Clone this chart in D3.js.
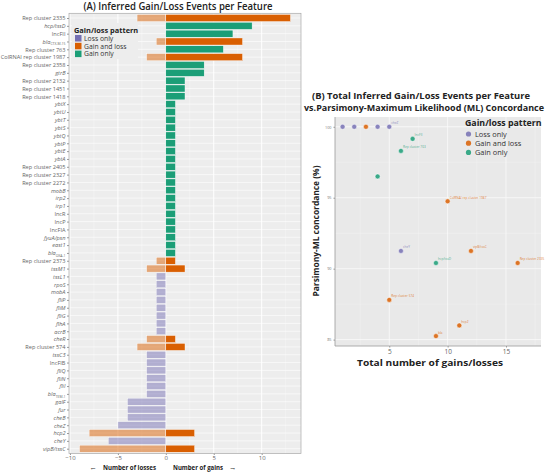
<!DOCTYPE html>
<html>
<head>
<meta charset="utf-8">
<script src="https://cdnjs.cloudflare.com/ajax/libs/d3/7.8.5/d3.min.js"></script>
<style>
  body { margin:0; padding:0; background:#fff; }
  svg { display:block; font-family:"Open Sans", sans-serif; }
  .tick line { stroke:#999; }
  .domain { display:none; }
</style>
</head>
<body>
<svg id="chart" width="550" height="474"></svg>
<script>
// ---- (A) gain / loss events per feature ----
var features = ["Rep cluster 2335","hcp/tssD","IncFII","blaCTX-M-15","Rep cluster 763","ColRNAI rep cluster 1987",
  "Rep cluster 2358","gtrB","Rep cluster 2132","Rep cluster 1451","Rep cluster 1418",
  "ybtX","ybtU","ybtT","ybtS","ybtQ","ybtP","ybtE","ybtA",
  "Rep cluster 2405","Rep cluster 2327","Rep cluster 2272","mobB","irp2","irp1","IncR","IncP","IncFIA",
  "fyuA/psn","east1","blaOXA-1","Rep cluster 2373","tssM1","tssL1","rpoS","mobA","fliP","fliM","fliG",
  "flhA","acrB","cheR","Rep cluster 574","tssC3","IncFIB","fliQ","fliN","fliI","blaTEM-1",
  "galF","fur","cheB","cheZ","hcp2","cheY","vipB/tssC"];
var losses = [3,0,0,1,0,2, 0,0,0,0,0, 0,0,0,0,0,0,0,0, 0,0,0,0,0,0,0,0,0, 0,0,0,1,2,1,1,1,1,1,1,
  1,1,2,3,2,2,2,2,2,2, 4,4,4,5,8,6,9];
var gains  = [13,9,7,8,6,8, 4,4,2,2,2, 1,1,1,1,1,1,1,1, 1,1,1,1,1,1,1,1,1, 1,1,1,1,2,0,0,0,0,0,0,
  0,0,1,2,0,0,0,0,0,0, 0,0,0,0,3,0,3];
var xTicksA = [-10,-5,0,5,10];

// ---- (B) total events vs concordance ----
var totalEvents = [1,2,3,4,5,7,6,4,10,6,12,9,16,5,11,9];
var concordance = [100,100,100,100,100,99.15,98.3,96.5,94.75,91.25,91.25,90.4,90.4,87.8,86.0,85.25];
var pointPattern = ["Loss only","Loss only","Gain and loss","Loss only","Loss only","Gain only","Gain only","Gain only",
  "Gain and loss","Loss only","Gain and loss","Gain only","Gain and loss","Gain and loss","Gain and loss","Gain and loss"];
var pointLabels = ["","","","","cheZ","IncFII","Rep cluster 763","","ColRNAI rep cluster 1987","cheY","vipB/tssC",
  "hcp/tssD","Rep cluster 2335","Rep cluster 574","hcp2","bla"];
var xTicksB = [5,10,15];
var yTicksB = [85,90,95,100];

var patterns = ["Loss only","Gain and loss","Gain only"];
var color = d3.scaleOrdinal().domain(patterns).range(["#7570b3","#d95f02","#1b9e77"]);

function patternOf(i) {
  if (gains[i] == 0) return "Loss only";
  if (losses[i] == 0) return "Gain only";
  return "Gain and loss";
}

var svg = d3.select("#chart");

// ================= panel A =================
var pA = {left:69, right:301, top:13.3, bottom:453.5};
var xA = d3.scaleLinear().domain([-10.1, 14.1]).range([pA.left, pA.right]);
var yA = d3.scalePoint().domain(features).range([18, 448.7]);
var barH = yA.step() * 0.9;

var gA = svg.append("g");
gA.append("rect").attr("x", pA.left).attr("y", pA.top)
  .attr("width", pA.right - pA.left).attr("height", pA.bottom - pA.top).attr("fill", "#ededed");

gA.selectAll(".minorA").data([-7.5,-2.5,2.5,7.5,12.5]).enter().append("line")
  .attr("x1", d => xA(d)).attr("x2", d => xA(d)).attr("y1", pA.top).attr("y2", pA.bottom)
  .attr("stroke", "#f8f8f8").attr("stroke-width", 0.5);
gA.selectAll(".majorA").data(xTicksA).enter().append("line")
  .attr("x1", d => xA(d)).attr("x2", d => xA(d)).attr("y1", pA.top).attr("y2", pA.bottom)
  .attr("stroke", "#fff").attr("stroke-width", 1);
gA.selectAll(".rowA").data(features).enter().append("line")
  .attr("x1", pA.left).attr("x2", pA.right).attr("y1", d => yA(d)).attr("y2", d => yA(d))
  .attr("stroke", "#fff").attr("stroke-width", 0.6);

// loss bars (lighter), gain bars (solid)
gA.selectAll(".loss").data(features).enter().filter((d, i) => losses[i] > 0).append("rect")
  .attr("x", function(d) { return xA(-losses[features.indexOf(d)]); })
  .attr("y", d => yA(d) - barH / 2)
  .attr("width", function(d) { return xA(0) - xA(-losses[features.indexOf(d)]); })
  .attr("height", barH)
  .attr("fill", function(d) { return color(patternOf(features.indexOf(d))); })
  .attr("fill-opacity", 0.5)
  .attr("stroke", "#fff").attr("stroke-width", 0.4);
gA.selectAll(".gain").data(features).enter().filter((d, i) => gains[i] > 0).append("rect")
  .attr("x", xA(0))
  .attr("y", d => yA(d) - barH / 2)
  .attr("width", function(d) { return xA(gains[features.indexOf(d)]) - xA(0); })
  .attr("height", barH)
  .attr("fill", function(d) { return color(patternOf(features.indexOf(d))); })
  .attr("stroke", "#fff").attr("stroke-width", 0.4);

gA.append("rect").attr("x", pA.left).attr("y", pA.top)
  .attr("width", pA.right - pA.left).attr("height", pA.bottom - pA.top)
  .attr("fill", "none").attr("stroke", "#a8a8a8").attr("stroke-width", 0.7);

// axes
var axA = gA.append("g").attr("transform", "translate(0," + pA.bottom + ")")
  .call(d3.axisBottom(xA).tickValues(xTicksA).tickSize(1.5).tickPadding(0.5));
axA.selectAll("text").attr("font-size", 6).attr("fill", "#666").attr("font-family", "Open Sans");

var ayA = gA.append("g").attr("transform", "translate(" + pA.left + ",0)")
  .call(d3.axisLeft(yA).tickSize(2).tickPadding(1.5));
ayA.selectAll("text").each(function(d) {
  var t = d3.select(this).text("").attr("font-size", 5.6).attr("fill", "#666")
    .attr("font-family", "Open Sans");
  var upright = /^(Rep|Inc|ColRNAI)/.test(d);
  if (/^bla/.test(d)) {
    t.append("tspan").attr("font-style", "italic").text("bla");
    t.append("tspan").attr("font-size", 3.4).attr("dy", 1.6).text(d.slice(3));
  } else {
    t.append("tspan").attr("font-style", upright ? "normal" : "italic").text(d);
  }
});

gA.append("text").attr("x", 93).attr("y", 470).attr("text-anchor", "middle")
  .attr("font-size", 7.5).attr("fill", "#333").text("\u2190");
gA.append("text").attr("x", 103).attr("y", 470).attr("font-size", 6.8).attr("font-weight", "bold")
  .attr("fill", "#222").attr("textLength", 53).attr("lengthAdjust", "spacingAndGlyphs").text("Number of losses");
gA.append("text").attr("x", 173).attr("y", 470).attr("font-size", 6.8).attr("font-weight", "bold")
  .attr("fill", "#222").attr("textLength", 50).attr("lengthAdjust", "spacingAndGlyphs").text("Number of gains");
gA.append("text").attr("x", 229).attr("y", 470)
  .attr("font-size", 7.5).attr("fill", "#333").text("\u2192");

gA.append("text").attr("x", 178).attr("y", 10).attr("text-anchor", "middle")
  .attr("font-size", 10.5).attr("font-weight", 600).attr("fill", "#222")
  .attr("textLength", 189).attr("lengthAdjust", "spacingAndGlyphs")
  .text("(A) Inferred Gain/Loss Events per Feature");

// legend A
var lgA = gA.append("g");
lgA.append("rect").attr("x", 72).attr("y", 23).attr("width", 66).attr("height", 36).attr("fill", "#ededed");
lgA.append("text").attr("x", 74).attr("y", 33).attr("font-size", 7.4).attr("font-weight", "bold")
  .attr("fill", "#222").text("Gain/loss pattern");
lgA.selectAll(".k").data(patterns).enter().append("rect")
  .attr("x", 75).attr("y", (d, i) => 35 + i * 7.8).attr("width", 6.5).attr("height", 6.5)
  .attr("fill", d => color(d));
lgA.selectAll(".l").data(patterns).enter().append("text")
  .attr("x", 84).attr("y", (d, i) => 40.8 + i * 7.8).attr("font-size", 6.8).attr("fill", "#333")
  .text(d => d);

// ================= panel B =================
var pB = {left:335, right:541, top:117, bottom:346};
var xB = d3.scaleLinear().domain([0.35, 18]).range([pB.left, pB.right]);
var yB = d3.scaleLinear().domain([84.55, 100.69]).range([pB.bottom, pB.top]);

var gB = svg.append("g");
gB.append("rect").attr("x", pB.left).attr("y", pB.top)
  .attr("width", pB.right - pB.left).attr("height", pB.bottom - pB.top).attr("fill", "#e9e9e9");
gB.selectAll(".mx").data([2.5,7.5,12.5,17.5]).enter().append("line")
  .attr("x1", d => xB(d)).attr("x2", d => xB(d)).attr("y1", pB.top).attr("y2", pB.bottom)
  .attr("stroke", "#f4f4f4").attr("stroke-width", 0.4);
gB.selectAll(".my").data([87.5,92.5,97.5]).enter().append("line")
  .attr("y1", d => yB(d)).attr("y2", d => yB(d)).attr("x1", pB.left).attr("x2", pB.right)
  .attr("stroke", "#f4f4f4").attr("stroke-width", 0.4);
gB.selectAll(".Mx").data(xTicksB).enter().append("line")
  .attr("x1", d => xB(d)).attr("x2", d => xB(d)).attr("y1", pB.top).attr("y2", pB.bottom)
  .attr("stroke", "#fafafa").attr("stroke-width", 0.8);
gB.selectAll(".My").data(yTicksB).enter().append("line")
  .attr("y1", d => yB(d)).attr("y2", d => yB(d)).attr("x1", pB.left).attr("x2", pB.right)
  .attr("stroke", "#fafafa").attr("stroke-width", 0.8);

gB.append("path")
  .attr("d", "M" + pB.left + "," + pB.top + "V" + pB.bottom + "H" + pB.right)
  .attr("fill", "none").attr("stroke", "#999").attr("stroke-width", 0.8);

var axB = gB.append("g").attr("transform", "translate(0," + pB.bottom + ")")
  .call(d3.axisBottom(xB).tickValues(xTicksB).tickSize(1.5).tickPadding(2));
axB.selectAll("text").attr("font-size", 6.5).attr("fill", "#666").attr("font-family", "Open Sans");
var ayB = gB.append("g").attr("transform", "translate(" + pB.left + ",0)")
  .call(d3.axisLeft(yB).tickValues(yTicksB).tickSize(1.5).tickPadding(2));
ayB.selectAll("text").attr("font-size", 3.8).attr("fill", "#777").attr("font-family", "Open Sans");

var pts = gB.selectAll(".pt").data(totalEvents).enter().append("g");
pts.append("circle")
  .attr("cx", d => xB(d))
  .attr("cy", (d, i) => yB(concordance[i]))
  .attr("r", 2.5)
  .attr("fill", (d, i) => color(pointPattern[i]))
  .attr("fill-opacity", 0.85)
  .attr("stroke", "#fff").attr("stroke-width", 0.5);
pts.append("text")
  .attr("x", d => xB(d) + 2)
  .attr("y", (d, i) => yB(concordance[i]) - 2.5)
  .attr("font-size", 3.2)
  .attr("fill", (d, i) => color(pointPattern[i]))
  .attr("fill-opacity", 0.8)
  .text((d, i) => pointLabels[i]);

// legend B
var lgB = gB.append("g");
lgB.append("text").attr("x", 465).attr("y", 125.5).attr("font-size", 8.8).attr("font-weight", "bold")
  .attr("fill", "#222").text("Gain/loss pattern");
lgB.selectAll(".k").data(patterns).enter().append("circle")
  .attr("cx", 468.5).attr("cy", (d, i) => 134 + i * 9.2).attr("r", 2.6)
  .attr("fill", d => color(d)).attr("fill-opacity", 0.85);
lgB.selectAll(".l").data(patterns).enter().append("text")
  .attr("x", 475).attr("y", (d, i) => 136.7 + i * 9.2).attr("font-size", 7.4).attr("fill", "#333")
  .text(d => d);

gB.append("text").attr("x", 421).attr("y", 98.5).attr("text-anchor", "middle")
  .attr("font-size", 9.2).attr("font-weight", "bold").attr("fill", "#222")
  .attr("textLength", 218).attr("lengthAdjust", "spacingAndGlyphs")
  .text("(B) Total Inferred Gain/Loss Events per Feature");
gB.append("text").attr("x", 424).attr("y", 110.5).attr("text-anchor", "middle")
  .attr("font-size", 8.6).attr("font-weight", "bold").attr("fill", "#222")
  .attr("textLength", 240).attr("lengthAdjust", "spacingAndGlyphs")
  .text("vs.Parsimony-Maximum Likelihood (ML) Concordance");

gB.append("text").attr("x", 430).attr("y", 365.5).attr("text-anchor", "middle")
  .attr("font-size", 8).attr("font-weight", "bold").attr("fill", "#222")
  .attr("textLength", 146).attr("lengthAdjust", "spacingAndGlyphs")
  .text("Total number of gains/losses");
gB.append("text").attr("transform", "translate(319,231) rotate(-90)").attr("text-anchor", "middle")
  .attr("font-size", 8).attr("font-weight", "bold").attr("fill", "#222")
  .attr("textLength", 131).attr("lengthAdjust", "spacingAndGlyphs")
  .text("Parsimony-ML concordance (%)");
</script>
</body>
</html>
